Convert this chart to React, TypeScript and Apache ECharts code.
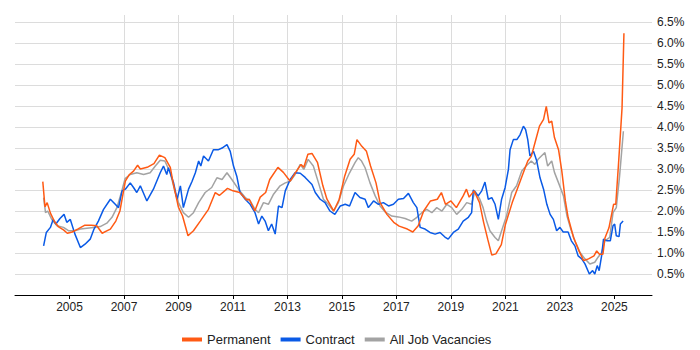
import React, { useEffect, useRef } from "react";
import * as echarts from "echarts";

// [decimal year, percent]
const permanent: [number, number][] = [
  [2004.02, 2.7], [2004.1, 2.1], [2004.18, 2.2], [2004.3, 1.95], [2004.45, 1.75], [2004.6, 1.62],
  [2004.78, 1.55], [2004.92, 1.47], [2005.1, 1.5], [2005.3, 1.57], [2005.55, 1.66], [2005.8, 1.66],
  [2006.0, 1.65], [2006.2, 1.47], [2006.35, 1.52], [2006.5, 1.57], [2006.7, 1.76], [2006.85, 2.0],
  [2007.05, 2.71], [2007.2, 2.87], [2007.35, 2.95], [2007.5, 3.09], [2007.6, 3.0], [2007.85, 3.04],
  [2008.1, 3.13], [2008.3, 3.33], [2008.5, 3.27], [2008.7, 3.04], [2008.8, 2.68], [2009.0, 2.09],
  [2009.15, 1.88], [2009.35, 1.41], [2009.55, 1.53], [2009.8, 1.76], [2010.1, 2.04], [2010.35, 2.44],
  [2010.5, 2.37], [2010.8, 2.54], [2011.0, 2.48], [2011.25, 2.44], [2011.5, 2.26], [2011.6, 2.28],
  [2011.8, 2.0], [2012.0, 2.33], [2012.2, 2.44], [2012.35, 2.75], [2012.65, 3.04], [2012.85, 2.92],
  [2013.1, 2.71], [2013.3, 2.92], [2013.5, 3.11], [2013.6, 3.04], [2013.75, 3.35], [2013.9, 3.37],
  [2014.1, 3.16], [2014.3, 2.6], [2014.45, 2.28], [2014.7, 2.0], [2014.9, 2.28], [2015.1, 2.83],
  [2015.3, 3.23], [2015.45, 3.35], [2015.55, 3.7], [2015.73, 3.54], [2015.9, 3.42], [2016.05, 3.07],
  [2016.25, 2.67], [2016.4, 2.2], [2016.65, 1.92], [2016.9, 1.73], [2017.1, 1.64], [2017.4, 1.57],
  [2017.6, 1.5], [2017.8, 1.65], [2018.0, 2.0], [2018.25, 2.24], [2018.5, 2.28], [2018.65, 2.44],
  [2018.8, 2.16], [2019.0, 2.24], [2019.2, 2.08], [2019.45, 2.36], [2019.57, 2.52], [2019.67, 2.33],
  [2019.85, 2.48], [2020.05, 2.2], [2020.2, 1.73], [2020.35, 1.33], [2020.5, 0.95], [2020.65, 0.98],
  [2020.85, 1.2], [2021.0, 1.68], [2021.25, 2.2], [2021.45, 2.55], [2021.65, 2.9], [2021.82, 3.19],
  [2021.95, 3.3], [2022.1, 3.66], [2022.25, 4.02], [2022.4, 4.18], [2022.5, 4.49], [2022.6, 4.1],
  [2022.7, 4.14], [2022.8, 3.75], [2022.95, 3.46], [2023.07, 2.95], [2023.2, 2.24], [2023.3, 1.85],
  [2023.5, 1.37], [2023.7, 1.05], [2023.87, 0.82], [2024.05, 0.86], [2024.25, 0.93], [2024.35, 1.05],
  [2024.45, 0.97], [2024.58, 0.97], [2024.65, 1.35], [2024.8, 1.6], [2024.97, 2.16], [2025.05, 2.16],
  [2025.15, 3.11], [2025.28, 4.45], [2025.35, 6.23],
];

const contract: [number, number][] = [
  [2004.05, 1.17], [2004.15, 1.49], [2004.3, 1.61], [2004.4, 1.8], [2004.5, 1.69], [2004.65, 1.82],
  [2004.8, 1.92], [2004.9, 1.73], [2005.03, 1.8], [2005.2, 1.45], [2005.4, 1.13], [2005.57, 1.21],
  [2005.76, 1.33], [2005.9, 1.57], [2006.06, 1.76], [2006.25, 2.04], [2006.5, 2.28], [2006.68, 2.16],
  [2006.8, 2.08], [2006.93, 2.48], [2007.05, 2.52], [2007.23, 2.67], [2007.35, 2.56], [2007.47, 2.44],
  [2007.6, 2.6], [2007.84, 2.24], [2008.08, 2.52], [2008.33, 2.91], [2008.45, 3.07], [2008.57, 2.87],
  [2008.63, 3.03], [2008.82, 2.67], [2008.95, 2.28], [2009.07, 2.6], [2009.18, 2.08], [2009.37, 2.52],
  [2009.5, 2.71], [2009.62, 2.91], [2009.74, 3.19], [2009.82, 3.07], [2009.92, 3.31], [2010.1, 3.19],
  [2010.28, 3.46], [2010.47, 3.46], [2010.6, 3.5], [2010.78, 3.58], [2010.9, 3.42], [2011.02, 3.07],
  [2011.14, 2.83], [2011.26, 2.44], [2011.45, 2.28], [2011.63, 2.16], [2011.81, 1.96], [2011.94, 1.69],
  [2012.06, 1.88], [2012.18, 1.76], [2012.3, 1.53], [2012.42, 1.69], [2012.55, 1.45], [2012.67, 2.12],
  [2012.8, 2.08], [2012.92, 2.48], [2013.1, 2.75], [2013.28, 2.91], [2013.47, 2.9], [2013.65, 2.8],
  [2013.9, 2.63], [2014.02, 2.44], [2014.2, 2.28], [2014.38, 2.2], [2014.56, 2.0], [2014.74, 1.92],
  [2014.94, 2.12], [2015.12, 2.16], [2015.28, 2.12], [2015.48, 2.44], [2015.66, 2.32], [2015.85, 2.28],
  [2015.97, 2.08], [2016.16, 2.24], [2016.34, 2.16], [2016.52, 2.2], [2016.71, 2.12], [2016.89, 2.16],
  [2017.07, 2.28], [2017.26, 2.3], [2017.44, 2.42], [2017.62, 2.2], [2017.75, 2.08], [2017.87, 1.61],
  [2018.05, 1.57], [2018.23, 1.49], [2018.42, 1.45], [2018.6, 1.49], [2018.78, 1.38], [2018.9, 1.33],
  [2019.09, 1.49], [2019.27, 1.57], [2019.45, 1.76], [2019.64, 1.85], [2019.76, 1.96], [2019.82, 2.5],
  [2020.0, 2.36], [2020.13, 2.48], [2020.25, 2.69], [2020.37, 2.28], [2020.5, 2.32], [2020.62, 2.16],
  [2020.74, 1.8], [2020.86, 2.28], [2020.99, 2.56], [2021.11, 2.99], [2021.17, 3.46], [2021.29, 3.7],
  [2021.42, 3.7], [2021.54, 3.82], [2021.66, 4.02], [2021.74, 3.94], [2021.82, 3.7], [2021.9, 3.31],
  [2022.03, 3.42], [2022.09, 3.31], [2022.15, 3.19], [2022.27, 2.79], [2022.4, 2.52], [2022.52, 2.16],
  [2022.64, 1.92], [2022.76, 1.8], [2022.88, 1.53], [2023.0, 1.61], [2023.12, 1.5], [2023.3, 1.5],
  [2023.42, 1.29], [2023.55, 1.17], [2023.67, 0.93], [2023.8, 0.86], [2023.92, 0.74], [2024.08, 0.5],
  [2024.2, 0.58], [2024.28, 0.5], [2024.37, 0.7], [2024.44, 0.58], [2024.53, 0.93], [2024.6, 1.33],
  [2024.73, 1.29], [2024.85, 1.29], [2024.95, 1.65], [2025.01, 1.69], [2025.07, 1.41], [2025.17, 1.39],
  [2025.22, 1.69], [2025.32, 1.76],
];

const allJobs: [number, number][] = [
  [2004.05, 2.32], [2004.12, 1.96], [2004.2, 2.0], [2004.35, 1.8], [2004.54, 1.65], [2004.78, 1.61],
  [2004.96, 1.53], [2005.2, 1.53], [2005.4, 1.57], [2005.64, 1.59], [2005.88, 1.61], [2006.13, 1.63],
  [2006.37, 1.71], [2006.56, 1.85], [2006.74, 2.08], [2006.92, 2.48], [2007.04, 2.77], [2007.23, 2.87],
  [2007.47, 2.91], [2007.72, 2.87], [2007.96, 2.91], [2008.15, 3.07], [2008.33, 3.21], [2008.5, 3.19],
  [2008.7, 2.91], [2008.88, 2.44], [2009.0, 2.2], [2009.18, 1.96], [2009.37, 1.85], [2009.55, 1.96],
  [2009.74, 2.2], [2009.98, 2.44], [2010.22, 2.56], [2010.41, 2.79], [2010.6, 2.75], [2010.78, 2.91],
  [2010.96, 2.75], [2011.2, 2.52], [2011.45, 2.32], [2011.63, 2.24], [2011.81, 2.04], [2011.94, 1.96],
  [2012.12, 2.2], [2012.3, 2.16], [2012.49, 2.4], [2012.73, 2.6], [2012.92, 2.67], [2013.1, 2.71],
  [2013.28, 2.87], [2013.47, 3.11], [2013.6, 2.99], [2013.76, 3.23], [2013.95, 3.07], [2014.14, 2.67],
  [2014.32, 2.28], [2014.5, 2.16], [2014.69, 2.0], [2014.87, 2.2], [2015.06, 2.6], [2015.28, 2.91],
  [2015.48, 3.15], [2015.6, 3.27], [2015.72, 3.19], [2015.85, 3.03], [2016.03, 2.67], [2016.22, 2.36],
  [2016.4, 2.12], [2016.58, 1.98], [2016.83, 1.88], [2017.07, 1.86], [2017.32, 1.82], [2017.56, 1.76],
  [2017.75, 1.85], [2017.93, 1.96], [2018.11, 2.04], [2018.3, 1.96], [2018.48, 2.08], [2018.67, 2.0],
  [2018.85, 2.16], [2019.03, 2.08], [2019.21, 1.92], [2019.4, 2.04], [2019.58, 2.2], [2019.76, 2.16],
  [2019.88, 2.48], [2020.06, 2.28], [2020.18, 2.08], [2020.31, 1.76], [2020.43, 1.53], [2020.62, 1.37],
  [2020.74, 1.29], [2020.86, 1.53], [2021.04, 1.88], [2021.23, 2.44], [2021.41, 2.6], [2021.6, 2.95],
  [2021.76, 3.07], [2021.95, 3.19], [2022.08, 3.11], [2022.2, 3.23], [2022.32, 3.31], [2022.45, 3.39],
  [2022.55, 3.07], [2022.7, 3.19], [2022.8, 2.92], [2022.95, 2.67], [2023.13, 2.36], [2023.26, 1.88],
  [2023.38, 1.61], [2023.55, 1.29], [2023.74, 1.01], [2023.92, 0.86], [2024.1, 0.74], [2024.28, 0.78],
  [2024.4, 0.9], [2024.53, 1.01], [2024.65, 1.29], [2024.83, 1.37], [2024.95, 1.96], [2025.07, 2.08],
  [2025.19, 2.83], [2025.33, 3.9],
];

const yearTicks = [2005, 2007, 2009, 2011, 2013, 2015, 2017, 2019, 2021, 2023, 2025];
const seriesNames = ["Permanent", "Contract", "All Job Vacancies"];
const seriesColors = ["#ff5a14", "#0a5ae6", "#a3a3a3"];

const FONT = "'Liberation Sans', Arial, sans-serif";

export default function App() {
  const ref = useRef<HTMLDivElement>(null);
  useEffect(() => {
    if (!ref.current) return;
    const chart = echarts.init(ref.current, undefined, { renderer: "svg" });
    const datasets = [permanent, contract, allJobs];
    const mk = (i: number) => ({
      name: seriesNames[i],
      type: "line",
      data: datasets[i],
      showSymbol: false,
      symbol: "none",
      color: seriesColors[i],
      lineStyle: { width: 1.5, color: seriesColors[i] },
      emphasis: { disabled: true },
    });
    chart.setOption({
      animation: false,
      textStyle: { fontFamily: FONT },
      grid: { left: 15, right: 48, top: 15, bottom: 55, containLabel: false },
      legend: {
        data: seriesNames.map((n) => ({ name: n, icon: "rect" })),
        left: 177,
        top: 328,
        itemWidth: 20,
        itemHeight: 4,
        itemGap: 10,
        textStyle: { fontSize: 13, color: "#222", fontFamily: FONT },
      },
      xAxis: {
        type: "value",
        min: 2003,
        max: 2026.38,
        interval: 2,
        axisLine: { show: true, lineStyle: { color: "#000", width: 1 } },
        axisTick: { show: true, length: 4, lineStyle: { color: "#000" }, customValues: yearTicks },
        axisLabel: {
          fontSize: 12,
          color: "#222",
          margin: 6,
          formatter: (v: number) => String(Math.round(v)),
          customValues: yearTicks,
        },
        splitLine: { show: true, showMinLine: false, showMaxLine: false, lineStyle: { color: "#dcdcdc", width: 1 } },
      },
      yAxis: {
        type: "value",
        position: "right",
        min: 0,
        max: 6.667,
        interval: 0.5,
        axisLine: { show: false },
        axisTick: { show: false },
        axisLabel: {
          fontSize: 12,
          color: "#222",
          margin: 5,
          showMinLabel: false,
          showMaxLabel: false,
          formatter: (v: number) => (v <= 0 || v > 6.6 ? "" : v.toFixed(1) + "%"),
        },
        splitLine: { show: true, showMinLine: false, showMaxLine: false, lineStyle: { color: "#dcdcdc", width: 1 } },
      },
      series: [mk(2), mk(1), mk(0)],
    });
    return () => chart.dispose();
  }, []);
  return (
    <div
      ref={ref}
      style={{ position: "fixed", left: 0, top: 0, width: 700, height: 350, background: "#fff" }}
    />
  );
}
